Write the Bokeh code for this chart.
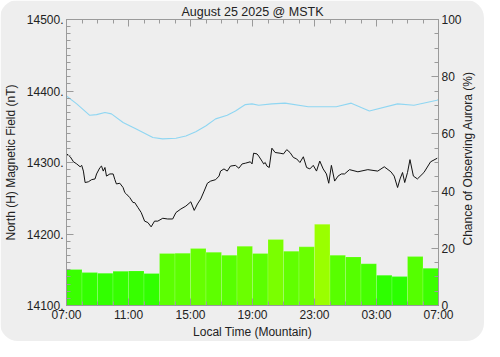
import math
from bokeh.plotting import figure
from bokeh.models import Range1d, LinearAxis, FixedTicker, InlineStyleSheet, ColumnDataSource
from bokeh.embed import file_html
from bokeh.resources import INLINE

# ---------------- data ----------------
title_text = "August 25 2025 @ MSTK"
x_tick_hours = [0, 4, 8, 12, 16, 20, 24]
x_tick_labels = ["07:00", "11:00", "15:00", "19:00", "23:00", "03:00", "07:00"]
y_ticks = [14100, 14200, 14300, 14400, 14500]
y_tick_labels = ["14100.", "14200.", "14300.", "14400.", "14500."]
pct_ticks = [0, 20, 40, 60, 80, 100]
right_label_text = "Chance of Observing Aurora (%)"

bar_hours = list(range(24))
aurora_pct = [12.6, 11.5, 11.3, 12.0, 12.1, 11.2, 18.2, 18.3, 19.9, 18.6, 17.6, 20.7,
              18.2, 23.1, 19.0, 20.5, 28.4, 17.6, 17.0, 14.6, 10.6, 10.1, 17.1, 13.0]

field_hours = [0.02, 0.24, 0.45, 0.66, 0.88, 0.98, 1.09, 1.20, 1.41, 1.62, 1.84, 1.94,
               2.16, 2.26, 2.37, 2.48, 2.58, 2.80, 3.01, 3.12, 3.22, 3.44, 3.65, 3.76,
               3.86, 4.08, 4.29, 4.40, 4.61, 4.82, 5.04, 5.25, 5.46, 5.68, 5.89, 6.21,
               6.53, 6.85, 7.06, 7.38, 7.70, 8.02, 8.24, 8.45, 8.66, 8.88, 9.09, 9.30,
               9.62, 9.84, 9.94, 10.16, 10.37, 10.58, 10.90, 11.12, 11.33, 11.54, 11.86,
               11.97, 12.07, 12.29, 12.40, 12.61, 12.72, 12.82, 12.93, 13.08, 13.25,
               13.46, 13.78, 14.00, 14.21, 14.42, 14.64, 14.85, 15.06, 15.28, 15.49,
               15.70, 15.92, 16.13, 16.34, 16.56, 16.77, 16.92, 17.09, 17.30, 17.52,
               17.73, 17.94, 18.26, 18.80, 19.44, 20.08, 20.50, 20.93, 21.14, 21.36,
               21.52, 21.68, 21.82, 22.00, 22.16, 22.38, 22.64, 23.06, 23.49, 23.92]
field_nT = [14312, 14308, 14301, 14298, 14294, 14296, 14288, 14272, 14273, 14276, 14277,
            14284, 14293, 14295, 14288, 14293, 14281, 14284, 14284, 14276, 14270, 14271,
            14265, 14258, 14256, 14251, 14244, 14244, 14237, 14230, 14218, 14216, 14210,
            14218, 14218, 14222, 14221, 14221, 14230, 14235, 14239, 14245, 14233, 14242,
            14249, 14260, 14271, 14274, 14276, 14281, 14288, 14291, 14288, 14295, 14296,
            14292, 14298, 14299, 14301, 14298, 14313, 14312, 14309, 14302, 14298, 14300,
            14295, 14293, 14320, 14314, 14313, 14312, 14318, 14314, 14307, 14305, 14300,
            14308, 14293, 14291, 14296, 14288, 14302, 14291, 14284, 14271, 14296, 14274,
            14281, 14284, 14284, 14290, 14287, 14290, 14288, 14294, 14287, 14281, 14265,
            14277, 14286, 14272, 14286, 14304, 14281, 14277, 14286, 14301, 14306]

baseline_hours = [0.0, 0.66, 1.5, 1.94, 2.48, 2.9, 3.65, 4.5, 5.57, 6.2, 7.06, 7.7, 8.34,
                  8.98, 9.62, 10.37, 10.9, 11.54, 11.97, 12.4, 13.25, 14.1, 15.6, 17.4,
                  18.37, 19.54, 21.36, 22.42, 23.9, 24.0]
baseline_nT = [14393, 14382, 14366, 14367, 14370, 14368, 14356, 14347, 14335, 14333,
               14334, 14337, 14343, 14351, 14361, 14366, 14372, 14381, 14382, 14380,
               14382, 14383, 14378, 14378, 14383, 14372, 14382, 14380, 14387, 14388]

# ---------------- styling helpers ----------------
FONT = "Liberation Sans"
TXT = "#222222"
AX = "#9a9a9a"
BG = "#eeeeee"


def bar_color(p):
    r = int(max(0, min(255, 255 * (p - 3) / 42)))
    return "#%02xff00" % r


src = ColumnDataSource(dict(
    left=bar_hours,
    right=[h + 1 for h in bar_hours],
    top=aurora_pct,
    bottom=[0] * len(bar_hours),
    color=[bar_color(v) for v in aurora_pct],
))

p = figure(width=484, height=341, output_backend="svg", toolbar_location=None,
           x_range=Range1d(0, 24), y_range=Range1d(14100, 14500),
           min_border_left=65, min_border_right=44, min_border_top=19, min_border_bottom=36,
           background_fill_color=BG, border_fill_color=BG, outline_line_color=AX,
           x_axis_location=None, y_axis_location=None)
p.stylesheets = [InlineStyleSheet(css=":host { border-radius: 18px; overflow: hidden; }")]
p.grid.visible = False

p.title.text = title_text
p.title.align = "center"
p.title.text_font = FONT
p.title.text_font_size = "12.5px"
p.title.text_font_style = "normal"
p.title.text_color = TXT
p.title.standoff = 1
p.title.offset = 0

p.extra_y_ranges = {"pct": Range1d(0, 100)}

p.quad(left="left", right="right", top="top", bottom="bottom", source=src,
       fill_color="color", line_color="white", line_alpha=0.25, line_width=0.6,
       y_range_name="pct")

p.line(baseline_hours, baseline_nT, line_color="#8fd6f2", line_width=1.1)
p.line(field_hours, field_nT, line_color="#111111", line_width=1.0)


def style_axis(ax, major, minor):
    ax.ticker = FixedTicker(ticks=major, minor_ticks=minor)
    ax.axis_line_color = AX
    ax.major_tick_line_color = AX
    ax.minor_tick_line_color = AX
    ax.major_tick_in = 7
    ax.major_tick_out = 0
    ax.minor_tick_in = 4
    ax.minor_tick_out = 0
    ax.major_label_text_font = FONT
    ax.major_label_text_font_size = "12px"
    ax.major_label_text_color = TXT
    ax.axis_label_text_font = FONT
    ax.axis_label_text_font_size = "12px"
    ax.axis_label_text_font_style = "normal"
    ax.axis_label_text_color = TXT


minor_hours = list(range(25))
minor_nT = list(range(14100, 14501, 10))
minor_pct = list(range(0, 101, 5))

bottom = LinearAxis(axis_label="Local Time (Mountain)")
style_axis(bottom, x_tick_hours, minor_hours)
bottom.major_label_overrides = {h: l for h, l in zip(x_tick_hours, x_tick_labels)}
bottom.major_label_standoff = 2
bottom.axis_label_standoff = 0
p.add_layout(bottom, "below")

top = LinearAxis()
style_axis(top, x_tick_hours, minor_hours)
top.major_label_overrides = {h: "" for h in x_tick_hours}
top.major_label_standoff = 0
p.add_layout(top, "above")

left = LinearAxis(axis_label="North (H) Magnetic Field (nT)")
style_axis(left, y_ticks, minor_nT)
left.major_label_overrides = {v: l for v, l in zip(y_ticks, y_tick_labels)}
left.major_label_standoff = 3
left.axis_label_standoff = 6
p.add_layout(left, "left")

# right axis title reads bottom-to-top; it starts at the bottom of the axis,
# so it is lifted with non-breaking spaces to sit centred like the reference
right = LinearAxis(y_range_name="pct", axis_label="\u00a0" * 18 + right_label_text)
style_axis(right, pct_ticks, minor_pct)
right.major_label_standoff = 3
right.axis_label_standoff = 3
right.axis_label_orientation = math.pi / 2
right.axis_label_align = "start"
p.add_layout(right, "right")

open("out.html", "w").write(file_html(p, INLINE))
